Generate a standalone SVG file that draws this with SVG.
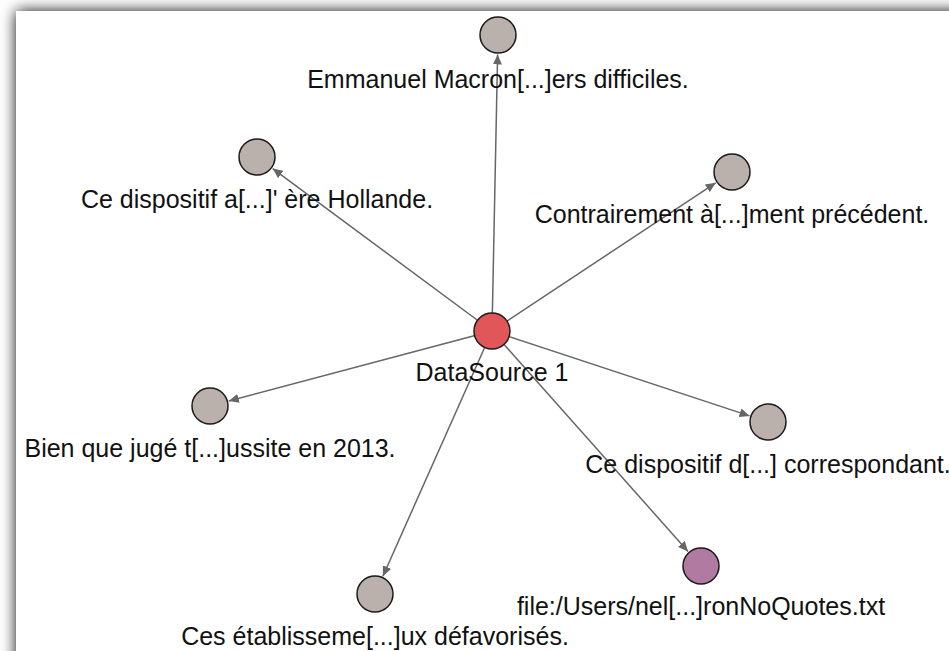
<svg xmlns="http://www.w3.org/2000/svg" width="949" height="651" viewBox="0 0 949 651">
  <defs>
    <filter id="pane-shadow" x="-5%" y="-5%" width="110%" height="110%">
      <feDropShadow dx="0" dy="0" stdDeviation="7.5" flood-color="#000" flood-opacity="0.95"/>
    </filter>
    <marker id="arrow" markerUnits="userSpaceOnUse" markerWidth="11" markerHeight="9" refX="10" refY="4.5" orient="auto">
      <path d="M0,0 L10,4.5 L0,9 z" fill="#666"/>
    </marker>
    <style>
      .edge { stroke: #666; stroke-width: 1.5; fill: none; marker-end: url(#arrow); }
      .node { stroke: #1a1a1a; stroke-width: 1.5; }
      .text-node { fill: #bab0ac; }
      .source-node { fill: #e15759; }
      .file-node { fill: #b07aa1; }
      .label { font-family: "Liberation Sans", Arial, sans-serif; font-size: 25px; fill: #111; text-anchor: middle; }
    </style>
  </defs>

  <!-- window pane with soft shadow -->
  <rect x="0" y="0" width="949" height="651" fill="#fff"/>
  <rect x="16" y="11" width="980" height="700" fill="#fff" filter="url(#pane-shadow)"/>

  <g id="connectors">
    <line class="edge" x1="492" y1="331" x2="497.6" y2="54.5"/>
    <line class="edge" x1="492" y1="331" x2="272.7" y2="168.6"/>
    <line class="edge" x1="492" y1="331" x2="715.7" y2="182.8"/>
    <line class="edge" x1="492" y1="331" x2="228.8" y2="401.0"/>
    <line class="edge" x1="492" y1="331" x2="749.5" y2="415.9"/>
    <line class="edge" x1="492" y1="331" x2="688.0" y2="551.4"/>
    <line class="edge" x1="492" y1="331" x2="382.9" y2="576.2"/>
  </g>

  <g id="node-top">
    <circle class="node text-node" cx="498" cy="35" r="18"/>
    <text class="label" x="498" y="88">Emmanuel Macron[...]ers difficiles.</text>
  </g>
  <g id="node-upper-left">
    <circle class="node text-node" cx="257" cy="157" r="18"/>
    <text class="label" x="257" y="208">Ce dispositif a[...]' ère Hollande.</text>
  </g>
  <g id="node-upper-right">
    <circle class="node text-node" cx="732" cy="172" r="18"/>
    <text class="label" x="732" y="223">Contrairement à[...]ment précédent.</text>
  </g>
  <g id="node-left">
    <circle class="node text-node" cx="210" cy="406" r="18"/>
    <text class="label" x="210" y="457">Bien que jugé t[...]ussite en 2013.</text>
  </g>
  <g id="node-right">
    <circle class="node text-node" cx="768" cy="422" r="18"/>
    <text class="label" x="768" y="473">Ce dispositif d[...] correspondant.</text>
  </g>
  <g id="node-file">
    <circle class="node file-node" cx="701" cy="566" r="18"/>
    <text class="label" x="701" y="615">file:/Users/nel[...]ronNoQuotes.txt</text>
  </g>
  <g id="node-bottom">
    <circle class="node text-node" cx="375" cy="594" r="18"/>
    <text class="label" x="375" y="645">Ces établisseme[...]ux défavorisés.</text>
  </g>
  <g id="node-datasource">
    <circle class="node source-node" cx="492" cy="331" r="18"/>
    <text class="label" x="492" y="381">DataSource 1</text>
  </g>
</svg>
